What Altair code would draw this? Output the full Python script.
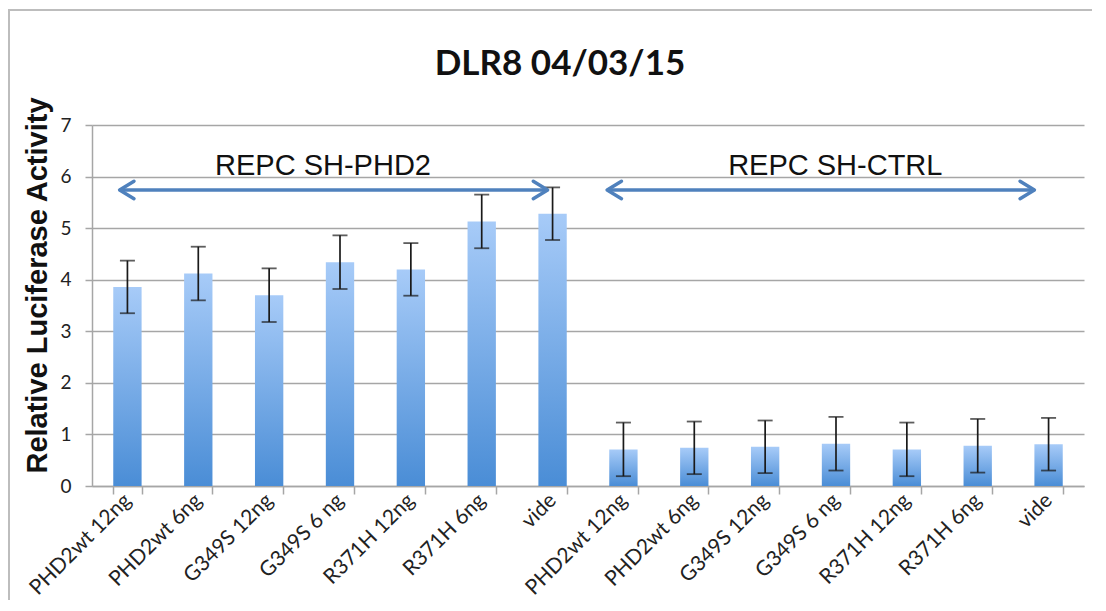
import altair as alt
import pandas as pd

title_text = ["DLR8 04/03/15"]
labels = ["PHD2wt 12ng", "PHD2wt 6ng", "G349S 12ng", "G349S 6 ng",
          "R371H 12ng", "R371H 6ng", "vide"]
groups = ["REPC SH-PHD2", "REPC SH-CTRL"]
values_phd2 = [3.86, 4.12, 3.70, 4.34, 4.20, 5.13, 5.28]
values_ctrl = [0.71, 0.74, 0.76, 0.82, 0.71, 0.78, 0.81]
err_phd2 = [0.51, 0.52, 0.52, 0.52, 0.51, 0.52, 0.51]
err_ctrl = [0.52, 0.51, 0.51, 0.52, 0.52, 0.52, 0.51]

# annotation arrows (category-index coordinates) and labels
arrow_x_start = [-0.11, 6.77]
arrow_x_end = [5.93, 12.8]
arrow_y = [5.74, 5.74]
group_text_x = [2.76, 9.99]
group_text_y = [6.03, 6.03]

rows = []
for g, (vals, errs) in enumerate([(values_phd2, err_phd2), (values_ctrl, err_ctrl)]):
    for i, lab in enumerate(labels):
        rows.append({"cat": f"{g}|{lab}", "value": vals[i],
                     "lo": vals[i] - errs[i], "hi": vals[i] + errs[i]})
df = pd.DataFrame(rows)
order = list(df["cat"])

arrows = pd.DataFrame({"x1": arrow_x_start, "x2": arrow_x_end, "value": arrow_y,
                       "tx": group_text_x, "ty": group_text_y, "text": groups})
titles = pd.DataFrame({"t": title_text})

W, H = 992, 361
xscale = alt.Scale(domain=order, paddingInner=0.6, paddingOuter=0.3)
yscale = alt.Scale(domain=[0, 7], nice=False)

y_axis = alt.Axis(values=[0, 1, 2, 3, 4, 5, 6, 7], title="Relative Luciferase Activity",
                  titleFont="Liberation Sans", titleFontSize=29, titleFontWeight="bold",
                  titleColor="#111111", titleX=-46, titleY=160, titleAngle=-90,
                  titleAlign="center", titleBaseline="alphabetic",
                  labelFont="Lato", labelFontSize=19, labelColor="#222222",
                  labelPadding=14, tickSize=7, tickColor="#a6a6a6", tickWidth=1.5,
                  domainColor="#a6a6a6", domainWidth=1.5,
                  gridColor="#a6a6a6", gridWidth=1.5)

x_enc = alt.X("cat:N", sort=order, scale=xscale, title=None,
              axis=alt.Axis(labelExpr="split(datum.label, '|')[1]",
                            labelAngle=-45, labelAlign="right", labelBaseline="middle",
                            labelFont="Lato", labelFontSize=21, labelColor="#222222",
                            labelPadding=3, tickBand="extent", tickSize=8,
                            tickColor="#a6a6a6", tickWidth=1.5,
                            domainColor="#a6a6a6", domainWidth=1.5, grid=False))

gradient = alt.LinearGradient(
    gradient="linear",
    stops=[alt.GradientStop(color="#4a8dd6", offset=0),
           alt.GradientStop(color="#a7cbf8", offset=1)],
    x1=1, x2=1, y1=1, y2=0)

base = alt.Chart(df)
bars = base.mark_bar(color=gradient).encode(
    x=x_enc, y=alt.Y("value:Q", scale=yscale, axis=y_axis))
err_rule = base.mark_rule(color="#1a1a1a", strokeWidth=1.7).encode(
    x=alt.X("cat:N", sort=order), y=alt.Y("lo:Q", axis=y_axis), y2="hi:Q")
cap_lo = base.mark_tick(color="#1a1a1a", thickness=1.8, size=15).encode(
    x=alt.X("cat:N", sort=order), y=alt.Y("lo:Q", axis=y_axis))
cap_hi = base.mark_tick(color="#1a1a1a", thickness=1.8, size=15).encode(
    x=alt.X("cat:N", sort=order), y=alt.Y("hi:Q", axis=y_axis))

data_layer = alt.layer(bars, err_rule, cap_lo, cap_hi)

ax = alt.Scale(domain=[-0.5, 13.5], nice=False, zero=False)
ann = alt.Chart(arrows)
arrow_line = ann.mark_rule(color="#4f81bd", strokeWidth=3.5).encode(
    x=alt.X("x1:Q", scale=ax, axis=None), x2="x2:Q",
    y=alt.Y("value:Q", axis=y_axis))
head_left = ann.mark_point(shape="M 1.4 -0.85 L 0 0 L 1.4 0.85", size=420, filled=False,
                           color="#4f81bd", strokeWidth=3.5, opacity=1,
                           strokeCap="round", strokeJoin="round").encode(
    x=alt.X("x1:Q", scale=ax, axis=None), y=alt.Y("value:Q", axis=y_axis))
head_right = ann.mark_point(shape="M -1.4 -0.85 L 0 0 L -1.4 0.85", size=420, filled=False,
                            color="#4f81bd", strokeWidth=3.5, opacity=1,
                            strokeCap="round", strokeJoin="round").encode(
    x=alt.X("x2:Q", scale=ax, axis=None), y=alt.Y("value:Q", axis=y_axis))
group_text = ann.mark_text(font="Liberation Sans", fontSize=29, color="#111111",
                           align="center", baseline="alphabetic").encode(
    x=alt.X("tx:Q", scale=ax, axis=None), y=alt.Y("ty:Q", axis=y_axis),
    text="text:N")

ann_layer = alt.layer(arrow_line, head_left, head_right, group_text)

title_mark = alt.Chart(titles).mark_text(
    font="Lato", fontSize=35, fontWeight="bold", color="#111111",
    align="center", baseline="alphabetic").encode(
    x=alt.value(468), y=alt.value(-50), text="t:N")

# outer chart-area frame (top and left edges only) as thin filled strips
frame_left = alt.Chart(titles).mark_rect(color="#bdbdbd", strokeWidth=0).encode(
    x=alt.value(-84), x2=alt.value(-82), y=alt.value(-116), y2=alt.value(H + 114))
frame_top = alt.Chart(titles).mark_rect(color="#bdbdbd", strokeWidth=0).encode(
    x=alt.value(-84), x2=alt.value(W + 8), y=alt.value(-116), y2=alt.value(-114))

chart = alt.layer(data_layer, ann_layer, title_mark, frame_left, frame_top).resolve_scale(
    x="independent", y="shared"
).properties(
    width=W, height=H,
    autosize=alt.AutoSizeParams(type="none"),
    padding={"left": 84, "top": 117, "right": 8, "bottom": 114},
).configure_view(stroke=None)

chart.save("out.html", embed_options={"renderer": "svg", "actions": False})
